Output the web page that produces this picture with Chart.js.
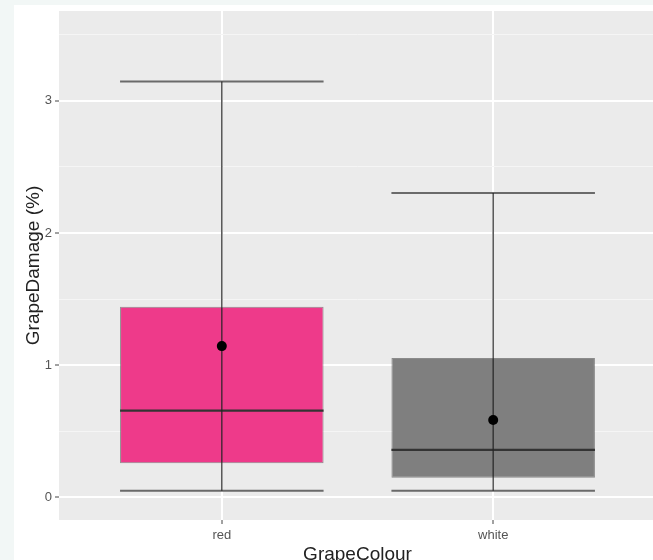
<!DOCTYPE html>
<html>
<head>
<meta charset="utf-8">
<script src="https://cdn.jsdelivr.net/npm/chart.js@4.4.1/dist/chart.umd.min.js"></script>
<style>
  html, body { margin: 0; padding: 0; overflow: hidden; width: 653px; height: 560px; background: #f2f7f6; }
  #card { position: absolute; left: 14px; top: 5px; right: 0; bottom: 0; background: #fff; }
  #chart { position: absolute; left: 0; top: 0; }
</style>
</head>
<body>
<div id="card"></div>
<canvas id="chart" width="661" height="567"></canvas>
<script>
// values
const groups = ['red', 'white'];
const whiskerLow = [0.05, 0.05];
const q1 = [0.257, 0.148];
const median = [0.655, 0.358];
const q3 = [1.442, 1.054];
const whiskerHigh = [3.147, 2.302];
const means = [1.144, 0.585];
const yTicks = [0, 1, 2, 3];
const yMinorTicks = [0.5, 1.5, 2.5, 3.5];

const fills = ['#ee3a8a', '#7f7f7f'];
const halfBox = 0.375;
const xPos = groups.map((g, i) => i + 1);
const yGrid = yTicks.concat(yMinorTicks).sort((a, b) => a - b);

Chart.defaults.font.family = '"Liberation Sans", Arial, sans-serif';

function hline(x, y, color, width, order) {
    return {
        type: 'line',
        data: [{x: x - halfBox, y: y}, {x: x + halfBox, y: y}],
        borderColor: color,
        borderWidth: width,
        pointRadius: 0,
        fill: false,
        order: order
    };
}

const datasets = [];

// boxes
datasets.push({
    type: 'bar',
    data: groups.map((g, i) => ({x: xPos[i], y: [q1[i], q3[i]]})),
    backgroundColor: fills,
    borderColor: 'rgba(60,60,60,0.55)',
    borderWidth: 1,
    borderSkipped: false,
    categoryPercentage: 1,
    barPercentage: 0.75,
    order: 9
});

groups.forEach((g, i) => {
    // median
    datasets.push(hline(xPos[i], median[i], '#333333', 2.2, 6));
    // caps
    datasets.push(hline(xPos[i], whiskerLow[i], '#6a6a6a', 2, 5));
    datasets.push(hline(xPos[i], whiskerHigh[i], '#6a6a6a', 2, 5));
    // whisker through the box
    datasets.push({
        type: 'line',
        data: [{x: xPos[i], y: whiskerLow[i]}, {x: xPos[i], y: whiskerHigh[i]}],
        borderColor: 'rgba(35,35,35,0.85)',
        borderWidth: 1.4,
        pointRadius: 0,
        fill: false,
        order: 4
    });
});

// means
datasets.push({
    type: 'line',
    data: groups.map((g, i) => ({x: xPos[i], y: means[i]})),
    showLine: false,
    pointRadius: 5,
    pointBackgroundColor: '#000',
    pointBorderWidth: 0,
    order: 1
});

const panelBg = {
    id: 'panelBg',
    beforeDraw(chart) {
        const {ctx, chartArea: a} = chart;
        ctx.save();
        ctx.fillStyle = '#ebebeb';
        ctx.fillRect(a.left, a.top, a.right - a.left, a.bottom - a.top);
        ctx.restore();
    }
};

const isMajor = v => yTicks.includes(v);

new Chart(document.getElementById('chart'), {
    type: 'bar',
    data: {datasets: datasets},
    plugins: [panelBg],
    options: {
        responsive: false,
        animation: false,
        layout: {padding: {top: 11, left: 0, right: 0, bottom: 0}},
        plugins: {legend: {display: false}, tooltip: {enabled: false}},
        scales: {
            x: {
                type: 'linear',
                min: 0.4,
                max: 2.6,
                offset: false,
                afterBuildTicks: s => { s.ticks = xPos.map(v => ({value: v})); },
                afterFit: s => { s.height = 47; },
                grid: {color: '#ffffff', lineWidth: 2, offset: false, tickColor: '#444', tickLength: 4, tickWidth: 1},
                border: {display: false},
                ticks: {
                    callback: v => groups[Math.round(v) - 1] || '',
                    color: '#555',
                    font: {size: 13},
                    padding: 4,
                    maxRotation: 0,
                    autoSkip: false
                },
                title: {display: true, text: 'GrapeColour', color: '#222', font: {size: 19}, padding: {top: 0, bottom: 1}}
            },
            y: {
                min: -0.172,
                max: 3.68,
                bounds: 'data',
                afterBuildTicks: s => { s.ticks = yGrid.map(v => ({value: v})); },
                afterFit: s => { s.width = 59; },
                grid: {
                    color: c => isMajor(c.tick.value) ? '#ffffff' : '#f5f5f5',
                    lineWidth: c => isMajor(c.tick.value) ? 2 : 1,
                    tickColor: c => isMajor(c.tick.value) ? '#444' : 'rgba(0,0,0,0)',
                    tickLength: 4,
                    tickWidth: 1
                },
                border: {display: false},
                ticks: {
                    callback: v => isMajor(v) ? String(v) : '',
                    color: '#555',
                    font: {size: 13},
                    padding: 3,
                    autoSkip: false
                },
                title: {display: true, text: 'GrapeDamage (%)', color: '#222', font: {size: 19}, padding: {top: 22, bottom: 0}}
            }
        }
    }
});
</script>
</body>
</html>
